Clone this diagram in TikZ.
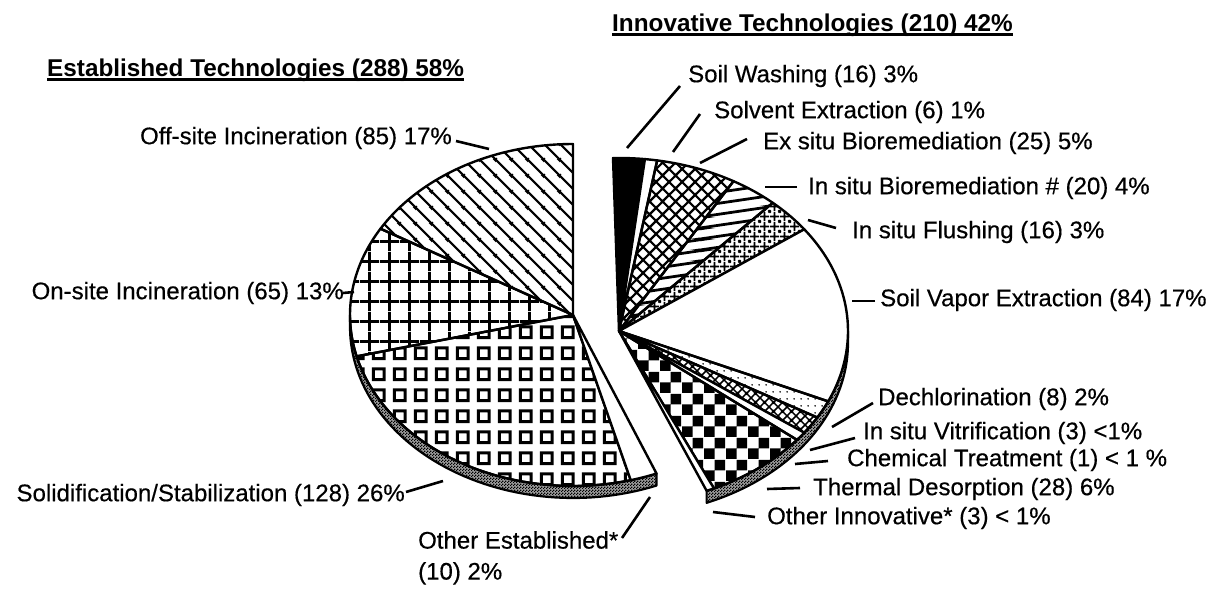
\documentclass[tikz,border=0pt]{standalone}
\usepackage{fontspec}
\setmainfont{Liberation Sans}
\newfontfamily\lblfont[FakeBold=0.45]{Liberation Sans}
\usetikzlibrary{patterns}

% ---------- patterns (1pt = 1px of the reference) ----------
\pgfdeclarepatternformonly{pOff}{\pgfqpoint{0pt}{0pt}}{\pgfqpoint{16pt}{16pt}}{\pgfqpoint{16pt}{16pt}}{%
  \pgfsetlinewidth{2.4pt}%
  \pgfpathmoveto{\pgfqpoint{-2pt}{2pt}}\pgfpathlineto{\pgfqpoint{2pt}{-2pt}}%
  \pgfpathmoveto{\pgfqpoint{-2pt}{18pt}}\pgfpathlineto{\pgfqpoint{18pt}{-2pt}}%
  \pgfpathmoveto{\pgfqpoint{14pt}{18pt}}\pgfpathlineto{\pgfqpoint{18pt}{14pt}}%
  \pgfusepath{stroke}}
\pgfdeclarepatternformonly{pGrid}{\pgfqpoint{0pt}{0pt}}{\pgfqpoint{20pt}{20pt}}{\pgfqpoint{20pt}{20pt}}{%
  \pgfsetlinewidth{2.8pt}%
  \pgfpathmoveto{\pgfqpoint{10pt}{0pt}}\pgfpathlineto{\pgfqpoint{10pt}{20pt}}%
  \pgfpathmoveto{\pgfqpoint{0pt}{10pt}}\pgfpathlineto{\pgfqpoint{20pt}{10pt}}%
  \pgfusepath{stroke}}
\pgfdeclarepatternformonly{pSq}{\pgfqpoint{0pt}{0pt}}{\pgfqpoint{20.5pt}{20.5pt}}{\pgfqpoint{20.5pt}{20.5pt}}{%
  \pgfsetlinewidth{3pt}%
  \pgfpathrectangle{\pgfqpoint{4.5pt}{4.5pt}}{\pgfqpoint{11pt}{11pt}}%
  \pgfusepath{stroke}}
\pgfdeclarepatternformonly{pDiam}{\pgfqpoint{0pt}{0pt}}{\pgfqpoint{13pt}{13pt}}{\pgfqpoint{13pt}{13pt}}{%
  \pgfsetlinewidth{2.3pt}%
  \pgfpathmoveto{\pgfqpoint{-1pt}{1pt}}\pgfpathlineto{\pgfqpoint{1pt}{-1pt}}%
  \pgfpathmoveto{\pgfqpoint{-1pt}{14pt}}\pgfpathlineto{\pgfqpoint{14pt}{-1pt}}%
  \pgfpathmoveto{\pgfqpoint{12pt}{14pt}}\pgfpathlineto{\pgfqpoint{14pt}{12pt}}%
  \pgfpathmoveto{\pgfqpoint{-1pt}{-1pt}}\pgfpathlineto{\pgfqpoint{14pt}{14pt}}%
  \pgfpathmoveto{\pgfqpoint{12pt}{-1pt}}\pgfpathlineto{\pgfqpoint{14pt}{1pt}}%
  \pgfpathmoveto{\pgfqpoint{-1pt}{12pt}}\pgfpathlineto{\pgfqpoint{1pt}{14pt}}%
  \pgfusepath{stroke}}
\pgfdeclarepatternformonly{pX}{\pgfqpoint{0pt}{0pt}}{\pgfqpoint{9pt}{9pt}}{\pgfqpoint{9pt}{9pt}}{%
  \pgfsetlinewidth{1.6pt}%
  \pgfpathmoveto{\pgfqpoint{-1pt}{1pt}}\pgfpathlineto{\pgfqpoint{1pt}{-1pt}}%
  \pgfpathmoveto{\pgfqpoint{-1pt}{10pt}}\pgfpathlineto{\pgfqpoint{10pt}{-1pt}}%
  \pgfpathmoveto{\pgfqpoint{8pt}{10pt}}\pgfpathlineto{\pgfqpoint{10pt}{8pt}}%
  \pgfpathmoveto{\pgfqpoint{-1pt}{-1pt}}\pgfpathlineto{\pgfqpoint{10pt}{10pt}}%
  \pgfpathmoveto{\pgfqpoint{8pt}{-1pt}}\pgfpathlineto{\pgfqpoint{10pt}{1pt}}%
  \pgfpathmoveto{\pgfqpoint{-1pt}{8pt}}\pgfpathlineto{\pgfqpoint{1pt}{10pt}}%
  \pgfusepath{stroke}}
% gently rising lines (in situ bioremediation)
\pgfdeclarepatternformonly{pSlant}{\pgfqpoint{0pt}{0pt}}{\pgfqpoint{70pt}{11pt}}{\pgfqpoint{70pt}{11pt}}{%
  \pgfsetlinewidth{3pt}%
  \pgfpathmoveto{\pgfqpoint{-5pt}{-11.8pt}}\pgfpathlineto{\pgfqpoint{75pt}{0.8pt}}%
  \pgfpathmoveto{\pgfqpoint{-5pt}{-0.8pt}}\pgfpathlineto{\pgfqpoint{75pt}{11.8pt}}%
  \pgfpathmoveto{\pgfqpoint{-5pt}{10.2pt}}\pgfpathlineto{\pgfqpoint{75pt}{22.8pt}}%
  \pgfusepath{stroke}}
\pgfdeclarepatternformonly{pDot}{\pgfqpoint{0pt}{0pt}}{\pgfqpoint{10pt}{10pt}}{\pgfqpoint{10pt}{10pt}}{%
  \pgfsetlinewidth{2pt}%
  \pgfpathmoveto{\pgfqpoint{5pt}{0pt}}\pgfpathlineto{\pgfqpoint{5pt}{10pt}}%
  \pgfpathmoveto{\pgfqpoint{0pt}{5pt}}\pgfpathlineto{\pgfqpoint{10pt}{5pt}}%
  \pgfusepath{stroke}%
  \pgfpathcircle{\pgfqpoint{0pt}{0pt}}{1.6pt}\pgfpathcircle{\pgfqpoint{10pt}{0pt}}{1.6pt}%
  \pgfpathcircle{\pgfqpoint{0pt}{10pt}}{1.6pt}\pgfpathcircle{\pgfqpoint{10pt}{10pt}}{1.6pt}%
  \pgfusepath{fill}}
\pgfdeclarepatternformonly{pChk}{\pgfqpoint{0pt}{0pt}}{\pgfqpoint{22pt}{22pt}}{\pgfqpoint{22pt}{22pt}}{%
  \pgfpathrectangle{\pgfqpoint{0pt}{0pt}}{\pgfqpoint{11pt}{11pt}}%
  \pgfpathrectangle{\pgfqpoint{11pt}{11pt}}{\pgfqpoint{11pt}{11pt}}%
  \pgfusepath{fill}}
\pgfdeclarepatternformonly{pStip}{\pgfqpoint{0pt}{0pt}}{\pgfqpoint{3pt}{3pt}}{\pgfqpoint{3pt}{3pt}}{%
  \pgfpathrectangle{\pgfqpoint{0pt}{0pt}}{\pgfqpoint{1.5pt}{1.5pt}}%
  \pgfpathrectangle{\pgfqpoint{1.5pt}{1.5pt}}{\pgfqpoint{1.5pt}{1.5pt}}%
  \pgfusepath{fill}}
\pgfdeclarepatternformonly{pSparse}{\pgfqpoint{0pt}{0pt}}{\pgfqpoint{7pt}{7pt}}{\pgfqpoint{7pt}{7pt}}{%
  \pgfpathcircle{\pgfqpoint{3.5pt}{3.5pt}}{1pt}%
  \pgfusepath{fill}}

% pie geometry (pixel coordinates, y downwards)
\def\LX{573}\def\LY{315}\def\LRX{223}\def\LRY{171}
\def\RX{619}\def\RY{331}\def\RRX{229}\def\RRY{173}
\def\HB{12}

\newcommand{\mySlice}[7]{%
  \path[#1] (#2,#3) -- plot[domain=#6:#7,samples=40,variable=\t]
    ({#2+#4*cos(\t)},{#3-#5*sin(\t)}) -- cycle;}
\newcommand{\myBand}[7]{%
  \path[#1] plot[domain=#6:#7,samples=60,variable=\t]
    ({#2+#4*cos(\t)},{#3-#5*sin(\t)})
    -- plot[domain=#7:#6,samples=60,variable=\t]
    ({#2+#4*cos(\t)},{#3+\HB-#5*sin(\t)}) -- cycle;}

\begin{document}
\begin{tikzpicture}[x=1pt,y=-1pt,line join=round,
  pieedge/.style={draw=black,line width=2.4pt},
  bandfill/.style={fill=black!38},
  band/.style={draw=black,line width=2.2pt,pattern=pStip},
  leader/.style={draw=black,line width=2.6pt},
  lbl/.style={inner sep=0pt,font=\lblfont\fontsize{24}{31}\selectfont},
  ttl/.style={inner sep=0pt,font=\fontsize{24.3}{30}\selectfont\bfseries},
  uline/.style={draw=black,line width=2.2pt}]

\useasboundingbox[fill=white] (0,0) rectangle (1216,591);

% ---------- left pie: established technologies ----------
\myBand{bandfill}{\LX}{\LY}{\LRX}{\LRY}{180}{292}
\myBand{band}{\LX}{\LY}{\LRX}{\LRY}{180}{292}
\mySlice{pieedge,pattern=pOff}{\LX}{\LY}{\LRX}{\LRY}{90}{149.7}
\mySlice{pieedge,pattern=pGrid}{\LX}{\LY}{\LRX}{\LRY}{149.7}{194}
\mySlice{pieedge,pattern=pSq}{\LX}{\LY}{\LRX}{\LRY}{194}{285}
\mySlice{pieedge,fill=white}{\LX}{\LY}{\LRX}{\LRY}{285}{292}

% ---------- right pie: innovative technologies ----------
\myBand{bandfill}{\RX}{\RY}{\RRX}{\RRY}{-67.5}{0}
\myBand{band}{\RX}{\RY}{\RRX}{\RRY}{-67.5}{0}
\mySlice{pieedge,fill=black}{\RX}{\RY}{\RRX}{\RRY}{83.5}{91.5}
\mySlice{pieedge,fill=white}{\RX}{\RY}{\RRX}{\RRY}{80.4}{83.5}
\mySlice{pieedge,pattern=pDiam}{\RX}{\RY}{\RRX}{\RRY}{60}{80.4}
\mySlice{pieedge,pattern=pSlant}{\RX}{\RY}{\RRX}{\RRY}{47.8}{60}
\mySlice{pieedge,pattern=pDot}{\RX}{\RY}{\RRX}{\RRY}{36}{47.8}
\mySlice{pieedge,fill=white}{\RX}{\RY}{\RRX}{\RRY}{-24}{36}
\mySlice{pieedge,pattern=pSparse}{\RX}{\RY}{\RRX}{\RRY}{-30}{-24}
\mySlice{pieedge,pattern=pX}{\RX}{\RY}{\RRX}{\RRY}{-36}{-30}
\mySlice{pieedge,fill=white}{\RX}{\RY}{\RRX}{\RRY}{-39}{-36}
\mySlice{pieedge,pattern=pChk}{\RX}{\RY}{\RRX}{\RRY}{-65.5}{-39}
\mySlice{pieedge,fill=white}{\RX}{\RY}{\RRX}{\RRY}{-67.5}{-65.5}

% ---------- titles ----------
\node[ttl,anchor=base west] (ltitle) at (47,77) {Established Technologies (288) 58\%};
\draw[uline] ([yshift=-2.5pt]ltitle.base west) -- ([yshift=-2.5pt]ltitle.base east);
\node[ttl,anchor=base west] (rtitle) at (612,32) {Innovative Technologies (210) 42\%};
\draw[uline] ([yshift=-2.5pt]rtitle.base west) -- ([yshift=-2.5pt]rtitle.base east);

% ---------- left labels ----------
\node[lbl,anchor=east] (offsite) at (452,138) {Off-site Incineration (85) 17\%};
\coordinate (offsiteA) at (456,141); \coordinate (offsiteB) at (489,149);
\draw[leader] (offsiteA) -- (offsiteB);

\node[lbl,anchor=east] (onsite) at (344,293) {On-site Incineration (65) 13\%};
\coordinate (onsiteA) at (343,293); \coordinate (onsiteB) at (354,292);
\draw[leader] (onsiteA) -- (onsiteB);

\node[lbl,anchor=east] (solid) at (405,495) {Solidification/Stabilization (128) 26\%};
\coordinate (solidA) at (406,492); \coordinate (solidB) at (443,481);
\draw[leader] (solidA) -- (solidB);

\node[lbl,anchor=north west,align=left] (othest) at (418,531) {Other Established*\\(10) 2\%};
\coordinate (othestA) at (622,538); \coordinate (othestB) at (650,497);
\draw[leader] (othestA) -- (othestB);

% ---------- right labels ----------
\node[lbl,anchor=west] (sw) at (688,76) {Soil Washing (16) 3\%};
\coordinate (swA) at (680,86); \coordinate (swB) at (627,148);
\draw[leader] (swA) -- (swB);

\node[lbl,anchor=west] (se) at (714,112) {Solvent Extraction (6) 1\%};
\coordinate (seA) at (700,114); \coordinate (seB) at (673,152);
\draw[leader] (seA) -- (seB);

\node[lbl,anchor=west] (exb) at (763,143) {Ex situ Bioremediation (25) 5\%};
\coordinate (exbA) at (747,139); \coordinate (exbB) at (700,163);
\draw[leader] (exbA) -- (exbB);

\node[lbl,anchor=west] (inb) at (808,188) {In situ Bioremediation \# (20) 4\%};
\coordinate (inbA) at (797,187); \coordinate (inbB) at (765,187);
\draw[leader] (inbA) -- (inbB);

\node[lbl,anchor=west] (insf) at (852,232) {In situ Flushing (16) 3\%};
\coordinate (insfA) at (836,228); \coordinate (insfB) at (808,220);
\draw[leader] (insfA) -- (insfB);

\node[lbl,anchor=west] (sve) at (880,300) {Soil Vapor Extraction (84) 17\%};
\coordinate (sveA) at (875,301); \coordinate (sveB) at (852,301);
\draw[leader] (sveA) -- (sveB);

\node[lbl,anchor=west] (dech) at (878,399) {Dechlorination (8) 2\%};
\coordinate (dechA) at (873,403); \coordinate (dechB) at (832,427);
\draw[leader] (dechA) -- (dechB);

\node[lbl,anchor=west] (vitr) at (863,433) {In situ Vitrification (3) <1\%};
\coordinate (vitrA) at (855,438); \coordinate (vitrB) at (810,450);
\draw[leader] (vitrA) -- (vitrB);

\node[lbl,anchor=west] (chem) at (847,460) {Chemical Treatment (1) < 1 \%};
\coordinate (chemA) at (828,461); \coordinate (chemB) at (795,464);
\draw[leader] (chemA) -- (chemB);

\node[lbl,anchor=west] (therm) at (813,489) {Thermal Desorption (28) 6\%};
\coordinate (thermA) at (800,488); \coordinate (thermB) at (767,489);
\draw[leader] (thermA) -- (thermB);

\node[lbl,anchor=west] (othinn) at (767,518) {Other Innovative* (3) < 1\%};
\coordinate (othinnA) at (755,517); \coordinate (othinnB) at (713,512);
\draw[leader] (othinnA) -- (othinnB);

\end{tikzpicture}
\end{document}
